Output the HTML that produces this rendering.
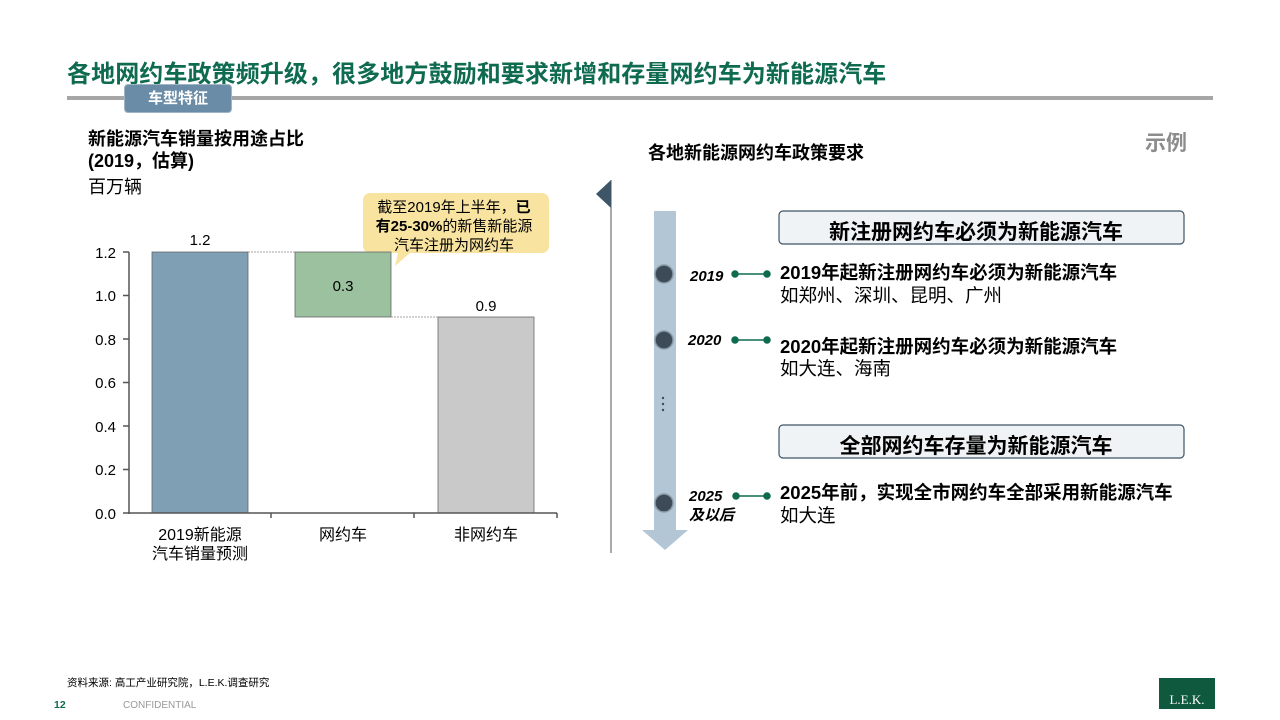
<!DOCTYPE html>
<html><head><meta charset="utf-8"><style>
body{margin:0;width:1280px;height:720px;background:#fff;overflow:hidden;position:relative;font-family:"Liberation Sans","Noto Sans CJK SC",sans-serif;}
.a{position:absolute;white-space:nowrap;}
</style></head><body>
<div class="a" style="left:67px;top:54px;font-size:24px;font-weight:bold;color:#0f6b4f;letter-spacing:0.1px;">各地网约车政策频升级，很多地方鼓励和要求新增和存量网约车为新能源汽车</div>
<div class="a" style="left:67px;top:96px;width:1146px;height:4px;background:#a6a6a6;"></div>
<div class="a" style="left:124px;top:84px;width:106px;height:27px;background:#6b8ca6;border-radius:4px;border:1px solid #9fb4c5;color:#fff;font-weight:bold;font-size:15px;text-align:center;line-height:27px;">车型特征</div>
<div class="a" style="left:88px;top:128px;font-size:18px;font-weight:bold;color:#000;line-height:22px;">新能源汽车销量按用途占比<br>(2019，估算)</div>
<div class="a" style="left:88px;top:173px;font-size:18px;color:#000;">百万辆</div>
<div class="a" style="left:648px;top:139px;font-size:18px;font-weight:bold;color:#000;">各地新能源网约车政策要求</div>
<div class="a" style="left:1145px;top:127px;font-size:21px;font-weight:bold;color:#8c8c8c;">示例</div>

<svg class="a" style="left:0;top:0" width="1280" height="720">
<g font-family="Liberation Sans, Noto Sans CJK SC, sans-serif" font-size="15" fill="#000">
<path d="M373,193 H541 Q549,193 549,201 V245 Q549,253 541,253 H410 L395,266 L398,253 H371 Q363,253 363,245 V201 Q363,193 371,193Z" fill="#f8e4a0"/>
<rect x="152" y="252" width="96" height="261" fill="#7f9fb4" stroke="#666" stroke-width="0.8"/>
<rect x="295" y="252" width="96" height="65" fill="#9cc19f" stroke="#666" stroke-width="0.8"/>
<rect x="438" y="317" width="96" height="196" fill="#c9c9c9" stroke="#666" stroke-width="0.8"/>
<line x1="248" y1="252" x2="295" y2="252" stroke="#888" stroke-dasharray="2,1" stroke-width="0.7"/>
<line x1="391" y1="317" x2="438" y2="317" stroke="#888" stroke-dasharray="2,1" stroke-width="0.7"/>
<g stroke="#555" stroke-width="1.5">
<line x1="129" y1="252" x2="129" y2="514"/>
<line x1="128" y1="513" x2="557" y2="513"/>
<line x1="123" y1="252" x2="129" y2="252"/><line x1="123" y1="295.5" x2="129" y2="295.5"/><line x1="123" y1="339" x2="129" y2="339"/><line x1="123" y1="382.5" x2="129" y2="382.5"/><line x1="123" y1="426" x2="129" y2="426"/><line x1="123" y1="469.5" x2="129" y2="469.5"/><line x1="123" y1="513" x2="129" y2="513"/>
<line x1="271" y1="513" x2="271" y2="518"/><line x1="414" y1="513" x2="414" y2="518"/><line x1="557" y1="513" x2="557" y2="518"/>
</g>
<g text-anchor="end"><text x="116" y="258">1.2</text><text x="116" y="301">1.0</text><text x="116" y="345">0.8</text><text x="116" y="388">0.6</text><text x="116" y="432">0.4</text><text x="116" y="475">0.2</text><text x="116" y="519">0.0</text></g>
<g text-anchor="middle"><text x="200" y="245">1.2</text><text x="343" y="291">0.3</text><text x="486" y="311">0.9</text>
<text x="200" y="540" font-size="16">2019新能源</text><text x="200" y="559" font-size="16">汽车销量预测</text><text x="343" y="540" font-size="16">网约车</text><text x="486" y="540" font-size="16">非网约车</text>
<text x="454" y="212" font-size="15">截至2019年上半年，<tspan font-weight="bold">已</tspan></text>
<text x="454" y="231" font-size="15"><tspan font-weight="bold">有25-30%</tspan>的新售新能源</text>
<text x="454" y="250" font-size="15">汽车注册为网约车</text></g>

<line x1="611" y1="180" x2="611" y2="553" stroke="#555" stroke-width="1"/>
<path d="M611,180 L596,194 L611,208Z" fill="#3d5566"/>
<rect x="654" y="211" width="22" height="320" fill="#b3c6d5"/>
<path d="M642,530 H688 L665,550Z" fill="#b3c6d5"/>
<g fill="#3d4b58" stroke="#8a99a6" stroke-width="1.5"><circle cx="664" cy="274" r="9"/><circle cx="664" cy="340" r="9"/><circle cx="664" cy="503" r="9"/></g>
<g fill="#3d4b58"><circle cx="663" cy="398" r="1.2"/><circle cx="663" cy="404" r="1.2"/><circle cx="663" cy="410" r="1.2"/></g>
<g fill="#0f6b4f" stroke="#0f6b4f" stroke-width="1.5">
<line x1="735" y1="274" x2="767" y2="274"/><circle cx="735" cy="274" r="3"/><circle cx="767" cy="274" r="3"/>
<line x1="735" y1="340" x2="767" y2="340"/><circle cx="735" cy="340" r="3"/><circle cx="767" cy="340" r="3"/>
<line x1="736" y1="496" x2="767" y2="496"/><circle cx="736" cy="496" r="3"/><circle cx="767" cy="496" r="3"/>
</g>
<g font-style="italic" font-weight="bold" font-size="15"><text x="690" y="281">2019</text><text x="688" y="345">2020</text><text x="689" y="501">2025</text><text x="689" y="520">及以后</text></g>
<rect x="779" y="211" width="405" height="33" rx="4" fill="#f0f3f5" stroke="#3d5566" stroke-width="1.2"/>
<rect x="779" y="425" width="405" height="33" rx="4" fill="#f0f3f5" stroke="#3d5566" stroke-width="1.2"/>
<g font-size="21" font-weight="bold" text-anchor="middle"><text x="976" y="239">新注册网约车必须为新能源汽车</text><text x="976" y="453">全部网约车存量为新能源汽车</text></g>
<g font-size="18.5"><text x="780" y="279" font-weight="bold">2019年起新注册网约车必须为新能源汽车</text><text x="780" y="302">如郑州、深圳、昆明、广州</text>
<text x="780" y="353" font-weight="bold">2020年起新注册网约车必须为新能源汽车</text><text x="780" y="375">如大连、海南</text>
<text x="780" y="499" font-weight="bold">2025年前，实现全市网约车全部采用新能源汽车</text><text x="780" y="522">如大连</text></g>
<text x="67" y="686" font-size="10.5">资料来源: 高工产业研究院，L.E.K.调查研究</text>
<text x="54" y="708" font-size="10.5" font-weight="bold" fill="#0f6b4f">12</text>
<text x="123" y="708" font-size="10" fill="#999">CONFIDENTIAL</text>
<rect x="1159" y="678" width="56" height="31" fill="#0f5a3e"/>
<text x="1187" y="704" font-size="13" fill="#fff" text-anchor="middle" font-family="Liberation Serif, serif">L.E.K.</text>
</g></svg>
</body></html>
